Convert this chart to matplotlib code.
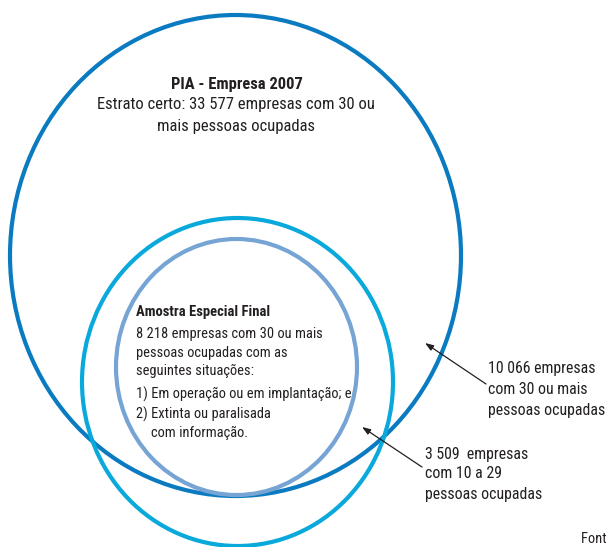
import matplotlib
matplotlib.use("Agg")
import matplotlib.pyplot as plt
from matplotlib.patches import Ellipse

# ---- data ----
universe_year = 2007
estrato_certo = 33577
amostra_final = 8218
extra_30_mais = 10066
extra_10_29 = 3509

def fmt(n):
    return f"{n:,}".replace(",", " ")

plt.rcParams['font.family'] = ['Roboto Condensed', 'Archivo Narrow', 'Liberation Sans', 'DejaVu Sans']

fig = plt.figure(figsize=(6.07, 5.47), dpi=100)
ax = fig.add_axes([0, 0, 1, 1])
ax.set_xlim(0, 607)
ax.set_ylim(547, 0)
ax.axis('off')
renderer = fig.canvas.get_renderer()

def fit_size(s, target_px, weight='normal', base=12):
    t = ax.text(0, 0, s, fontsize=base, fontweight=weight)
    w = t.get_window_extent(renderer).width
    t.remove()
    return base * target_px / w

c_outer = '#0a7bc1'
c_mid = '#0aa9dc'
c_inner = '#76a4d4'

ax.add_patch(Ellipse((235.5, 255.5), 451, 481, fill=False, ec=c_outer, lw=3.0))
ax.add_patch(Ellipse((237.5, 382), 311, 328, fill=False, ec=c_mid, lw=3.0))
ax.add_patch(Ellipse((236.5, 367), 241, 256, fill=False, ec=c_inner, lw=3.0))

tc = '#231f20'
title = f"PIA - Empresa {universe_year}"
l2 = f"Estrato certo: {fmt(estrato_certo)} empresas com 30 ou"
fs_t = fit_size(title, 132, 'bold')
fs_top = fit_size(l2, 277)
ax.text(237, 85, title, ha='center', va='center', fontsize=fs_t, fontweight='bold', color=tc)
ax.text(236, 105, l2, ha='center', va='center', fontsize=fs_top, color=tc)
ax.text(236, 126, "mais pessoas ocupadas", ha='center', va='center', fontsize=fs_top, color=tc)

x0 = 136
head = "Amostra Especial Final"
fs_h = fit_size(head, 134, 'bold')
first = f"{fmt(amostra_final)} empresas com 30 ou mais"
fs_in = fit_size(first, 186)
ax.text(x0, 312, head, ha='left', va='center', fontsize=fs_h, fontweight='bold', color=tc)
inner_lines = [
    (334, x0, first),
    (353, x0, "pessoas ocupadas com as"),
    (371, x0, "seguintes situações:"),
    (394, x0, "1) Em operação ou em implantação; e"),
    (414, x0, "2) Extinta ou paralisada"),
    (433, 151, "com informação."),
]
for y, x, s in inner_lines:
    ax.text(x, y, s, ha='left', va='center', fontsize=fs_in, color=tc)

fs_r = fit_size("pessoas ocupadas", 117)
for y, s in [(368, f"{fmt(extra_30_mais)} empresas"), (389, "com 30 ou mais"), (410, "pessoas ocupadas")]:
    ax.text(488, y, s, ha='left', va='center', fontsize=fs_r, color=tc)
for y, s in [(454, f"{fmt(extra_10_29)}  empresas"), (474, "com 10 a 29"), (495, "pessoas ocupadas")]:
    ax.text(425, y, s, ha='left', va='center', fontsize=fs_r, color=tc)

ax.text(581, 539, "Fonte: IBGE, Diretoria de Pesquisas", ha='left', va='center', fontsize=fs_in, color=tc)

arrow_kw = dict(arrowstyle='-|>,head_length=0.5,head_width=0.18', color='#231f20', lw=0.9,
                shrinkA=0, shrinkB=0)
ax.annotate("", xy=(425, 343), xytext=(486, 384), arrowprops=arrow_kw)
ax.annotate("", xy=(362, 427), xytext=(422, 467), arrowprops=arrow_kw)

fig.savefig("out.png", dpi=100)
